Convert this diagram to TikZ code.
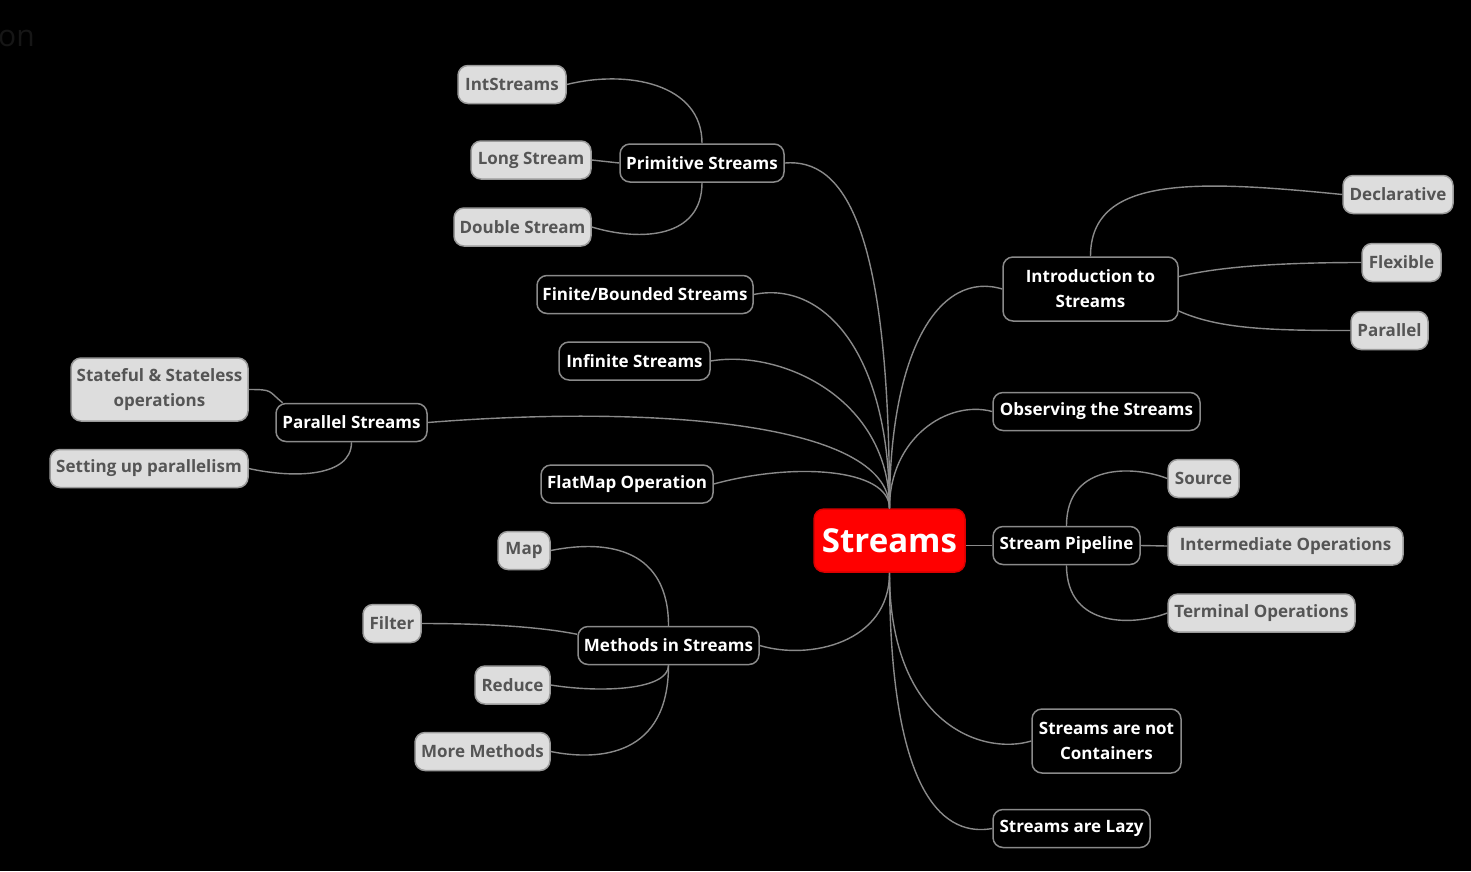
\documentclass[tikz,border=0pt]{standalone}
\usepackage{fontspec}
\setmainfont{Open Sans}
\definecolor{linegray}{HTML}{8A8A8A}
\definecolor{leaffill}{HTML}{DDDDDD}
\definecolor{leafedge}{HTML}{9A9A9A}
\definecolor{leaftext}{HTML}{555555}
\definecolor{faint}{HTML}{161616}
\begin{document}
\begin{tikzpicture}[x=1pt,y=-1pt,
  base/.style={rounded corners=10pt, line width=1.5pt, inner sep=0pt, align=center,
    font=\fontsize{17}{25}\selectfont\bfseries, minimum height=38pt},
  root/.style={base, fill=red, draw=red!85!black, text=white,
    font=\fontsize{33}{40}\selectfont\bfseries, minimum height=63pt},
  topic/.style={base, fill=black, draw=linegray, text=white},
  leaf/.style={base, fill=leaffill, draw=leafedge, text=leaftext},
  edge/.style={draw=linegray, line width=1.4pt},
]
% canvas
\fill[black] (0,0) rectangle (1471,871);
\useasboundingbox (0,0) rectangle (1471,871);
\node[anchor=base west, inner sep=0pt, text=faint, font=\fontsize{30}{36}\selectfont] (title) at (-2,46) {on};

% root
\node[root, minimum width=151pt] (c) at (889.5,540.5) {Streams};

% left branches
\node[topic, minimum width=164pt] (prim) at (702,163) {Primitive Streams};
\node[leaf, minimum width=108pt] (int) at (512,84.5) {IntStreams};
\node[leaf, minimum width=120pt] (long) at (531,160) {Long Stream};
\node[leaf, minimum width=137pt] (dbl) at (522.5,227) {Double Stream};
\node[topic, minimum width=216pt] (fin) at (645,294.5) {Finite/Bounded Streams};
\node[topic, minimum width=151pt] (inf) at (634.5,361) {Infinite Streams};
\node[topic, minimum width=151pt] (par) at (351.5,422.5) {Parallel Streams};
\node[leaf, minimum width=177pt, minimum height=63pt] (stf) at (159.5,389.5) {Stateful \& Stateless\\operations};
\node[leaf, minimum width=198pt] (setp) at (149,468.5) {Setting up parallelism};
\node[topic, minimum width=172pt] (flat) at (627,484) {FlatMap Operation};
\node[topic, minimum width=181pt] (meth) at (668.5,645.5) {Methods in Streams};
\node[leaf, minimum width=52pt] (map) at (524,550.5) {Map};
\node[leaf, minimum width=58pt] (filt) at (392,623.5) {Filter};
\node[leaf, minimum width=75pt] (reduce) at (512.5,685) {Reduce};
\node[leaf, minimum width=135pt] (more) at (482.5,751.5) {More Methods};

% right branches
\node[topic, minimum width=175pt, minimum height=64pt] (intro) at (1090.5,289) {Introduction to\\Streams};
\node[leaf, minimum width=110pt] (decl) at (1398,194.5) {Declarative};
\node[leaf, minimum width=79pt] (flex) at (1401.5,262.5) {Flexible};
\node[leaf, minimum width=77pt] (parl) at (1389.5,330.5) {Parallel};
\node[topic, minimum width=207pt] (obs) at (1096.5,411.5) {Observing the Streams};
\node[topic, minimum width=147pt] (pipe) at (1066.5,545.5) {Stream Pipeline};
\node[leaf, minimum width=71pt] (src) at (1203.5,478.5) {Source};
\node[leaf, minimum width=235pt] (inter) at (1285.5,546) {Intermediate Operations};
\node[leaf, minimum width=187pt] (term) at (1261.5,613) {Terminal Operations};
\node[topic, minimum width=149pt, minimum height=64pt] (notc) at (1106.5,741) {Streams are not\\Containers};
\node[topic, minimum width=157pt] (lazy) at (1071.5,828.5) {Streams are Lazy};

% root to main topics
\draw[edge] (c.north) .. controls +(0,-280) and +(60,-5) .. (prim.east);
\draw[edge] (c.north) .. controls +(0,-160) and +(67,-14) .. (fin.east);
\draw[edge] (c.north) .. controls +(0,-110) and +(70,-12) .. (inf.east);
\draw[edge] (c.north) .. controls +(0,-89) and +(213,-17) .. (par.east);
\draw[edge] (c.north) .. controls +(0,-40) and +(80,-22) .. (flat.east);
\draw[edge] (c.north) .. controls +(0,-158) and +(-63,-19) .. (intro.west);
\draw[edge] (c.north) .. controls +(0,-70) and +(-45,-12) .. (obs.west);
\draw[edge] (pipe.west -| c.east) -- (pipe.west);
\draw[edge] (c.south) .. controls +(0,70) and +(50,15) .. (meth.east);
\draw[edge] (c.south) .. controls +(0,150) and +(-50,15) .. (notc.west);
\draw[edge] (c.south) .. controls +(0,230) and +(-45,8) .. (lazy.west);

% sub-topics
\draw[edge] (prim.north) .. controls +(0,-60) and +(60,-15) .. (int.east);
\draw[edge] (long.east) -- (prim.west);
\draw[edge] (prim.south) .. controls +(0,55) and +(50,15) .. (dbl.east);
\draw[edge] (par.164) .. controls +(-15,-12) and +(25,0) .. (stf.east);
\draw[edge] (par.south) .. controls +(0,35) and +(45,10) .. (setp.east);
\draw[edge] (meth.north) .. controls +(0,-75) and +(60,-12) .. (map.east);
\draw[edge] (meth.173) .. controls +(-40,-8) and +(60,0) .. (filt.east);
\draw[edge] (meth.south) .. controls +(0,25) and +(50,8) .. (reduce.east);
\draw[edge] (meth.south) .. controls +(0,90) and +(50,10) .. (more.east);
\draw[edge] (intro.north) .. controls +(0,-80) and +(-150,-15) .. (decl.west);
\draw[edge] (intro.8) .. controls +(40,-10) and +(-80,0) .. (flex.west);
\draw[edge] (intro.-14) .. controls +(40,18) and +(-80,0) .. (parl.west);
\draw[edge] (pipe.north) .. controls +(0,-65) and +(-30,-12) .. (src.west);
\draw[edge] (pipe.east) -- (inter.west);
\draw[edge] (pipe.south) .. controls +(0,65) and +(-30,12) .. (term.west);
\end{tikzpicture}
\end{document}
